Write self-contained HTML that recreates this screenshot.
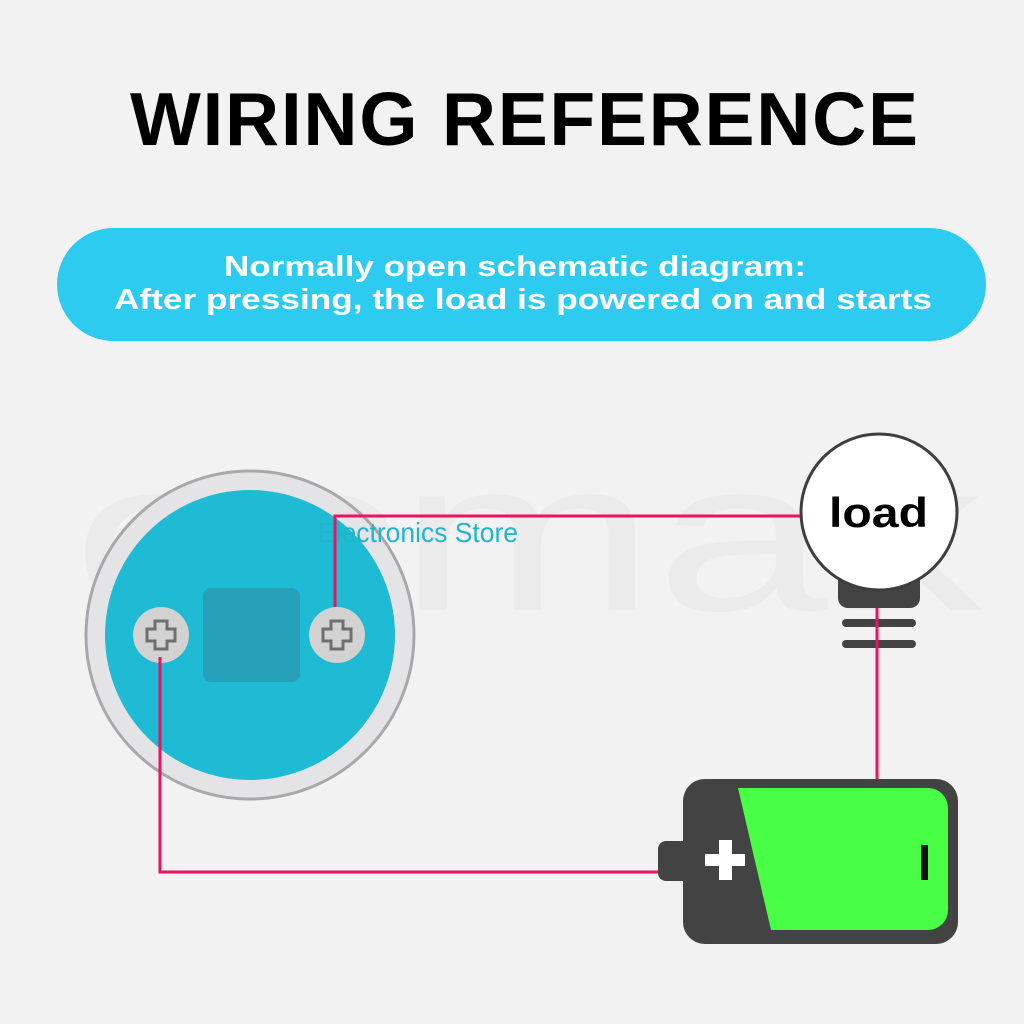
<!DOCTYPE html>
<html><head><meta charset="utf-8"><style>
html,body{margin:0;padding:0;background:#f2f2f2;}
svg{display:block;}
</style></head><body>
<svg width="1024" height="1024" viewBox="0 0 1024 1024" xmlns="http://www.w3.org/2000/svg">
<rect width="1024" height="1024" fill="#f2f2f2"/>
<!-- watermark -->
<text x="72" y="610" font-family="Liberation Sans, sans-serif" font-size="215" fill="#ebebeb" textLength="910" lengthAdjust="spacingAndGlyphs">ecmak</text>
<!-- title -->
<text x="130" y="145" font-family="Liberation Sans, sans-serif" font-weight="bold" font-size="75" fill="#000" textLength="788" lengthAdjust="spacing">WIRING REFERENCE</text>
<!-- banner -->
<rect x="57" y="228" width="929" height="113" rx="56.5" fill="#2ecbf0"/>
<text x="224" y="276" font-family="Liberation Sans, sans-serif" font-weight="bold" font-size="29" fill="#fff" textLength="582" lengthAdjust="spacingAndGlyphs">Normally open schematic diagram:</text>
<text x="114" y="309" font-family="Liberation Sans, sans-serif" font-weight="bold" font-size="29" fill="#fff" textLength="818" lengthAdjust="spacingAndGlyphs">After pressing, the load is powered on and starts</text>
<!-- switch -->
<circle cx="250" cy="635" r="164" fill="#e4e4e6" stroke="#a8a8a8" stroke-width="3"/>
<circle cx="250" cy="635" r="145" fill="#1fbad3"/>
<rect x="203" y="588" width="97" height="94" rx="8" fill="#26a0b8"/>
<text x="318" y="542" font-family="Liberation Sans, sans-serif" font-size="28" fill="#22b4cc" textLength="200" lengthAdjust="spacingAndGlyphs">Electronics Store</text>
<g>
<circle cx="161" cy="635" r="28" fill="#d2d2d2"/>
<path d="M155 621h12v8h8v12h-8v8h-12v-8h-8v-12h8z" fill="none" stroke="#6e6e6e" stroke-width="3"/>
<circle cx="337" cy="635" r="28" fill="#d2d2d2"/>
<path d="M331 621h12v8h8v12h-8v8h-12v-8h-8v-12h8z" fill="none" stroke="#6e6e6e" stroke-width="3"/>
</g>
<!-- wires -->
<g fill="none" stroke="#ee1260" stroke-width="3">
<path d="M335 607V516H803"/>
<path d="M160 657V872H658"/>
</g>
<!-- bulb -->
<rect x="838" y="570" width="82" height="38" rx="10" fill="#434343"/>
<circle cx="879" cy="512" r="78" fill="#fff" stroke="#3e3e3e" stroke-width="3"/>
<rect x="842" y="619" width="74" height="8" rx="4" fill="#434343"/>
<rect x="842" y="640" width="74" height="8" rx="4" fill="#434343"/>
<line x1="877" y1="608" x2="877" y2="783" stroke="#ee1260" stroke-width="3"/>
<text x="829" y="527" font-family="Liberation Sans, sans-serif" font-weight="bold" font-size="42" fill="#000" textLength="99" lengthAdjust="spacingAndGlyphs">load</text>
<!-- battery -->
<rect x="658" y="841" width="40" height="40" rx="8" fill="#434343"/>
<rect x="683" y="779" width="275" height="165" rx="22" fill="#434343"/>
<path d="M738 788H928a20 20 0 0 1 20 20V910a20 20 0 0 1 -20 20H771z" fill="#48ff45"/>
<rect x="719" y="840" width="13" height="40" fill="#fff"/>
<rect x="705" y="854" width="40" height="12" fill="#fff"/>
<rect x="921" y="845" width="7" height="35" fill="#111"/>
</svg>
</body></html>
